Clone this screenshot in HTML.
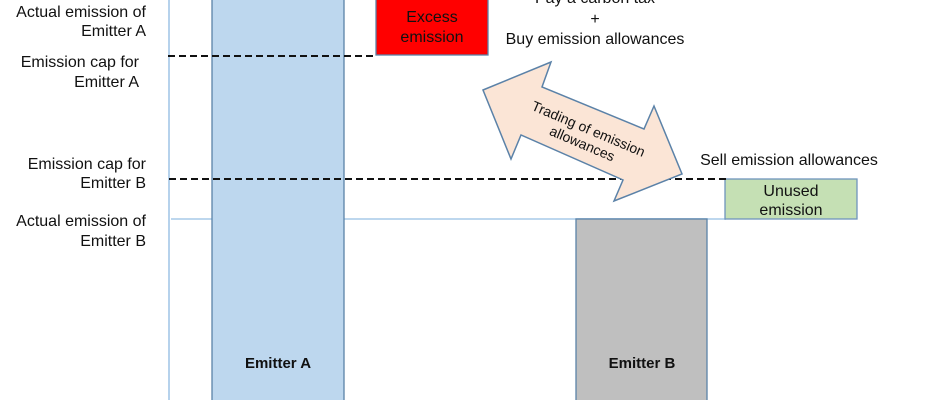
<!DOCTYPE html>
<html><head><style>body{margin:0;background:#fff}svg{display:block}</style></head>
<body>
<svg width="940" height="400" viewBox="0 0 940 400" xmlns="http://www.w3.org/2000/svg" font-family="Liberation Sans, Arial, sans-serif" font-size="16" fill="#111">
<line x1="169" y1="0" x2="169" y2="400" stroke="#9dc3e6" stroke-width="1.5"/>
<line x1="171" y1="219" x2="726" y2="219" stroke="#bdd7ee" stroke-width="2"/>
<rect x="212" y="-2" width="132" height="404" fill="#bdd7ee" stroke="#5b82a8" stroke-width="1.3"/>
<rect x="376" y="-2" width="112" height="57" fill="#ff0000" stroke="#5b82a8" stroke-width="1.3"/>
<rect x="576" y="219" width="131" height="183" fill="#bfbfbf" stroke="#5b82a8" stroke-width="1.3"/>
<rect x="725" y="179" width="132" height="40" fill="#c5e0b4" stroke="#6f94bd" stroke-width="1.3"/>
<polyline points="168,56 375,56 375,54" fill="none" stroke="#111" stroke-width="2" stroke-dasharray="7,4"/>
<line x1="169" y1="179" x2="727" y2="179" stroke="#111" stroke-width="2" stroke-dasharray="7,4"/>
<polygon points="483,90 551,62 542,87 644,129 654,106 682,174 614,201 623,180 521,135 511,159" fill="#fbe5d6" stroke="#5b82a8" stroke-width="1.5"/>
<g font-size="14" text-anchor="middle" transform="translate(585,137) rotate(23)">
<text x="0" y="-4">Trading of emission</text><text x="0" y="12">allowances</text></g>
<g text-anchor="end">
<text x="146" y="17">Actual emission of</text><text x="146" y="36">Emitter A</text>
<text x="139" y="67">Emission cap for</text><text x="139" y="87">Emitter A</text>
<text x="146" y="169">Emission cap for</text><text x="146" y="188">Emitter B</text>
<text x="146" y="226">Actual emission of</text><text x="146" y="246">Emitter B</text>
</g>
<g text-anchor="middle">
<text x="432" y="22">Excess</text><text x="432" y="42">emission</text>
<text x="595" y="3">Pay a carbon tax</text><text x="595" y="24">+</text>
<text x="595" y="44">Buy emission allowances</text>
<text x="789" y="165">Sell emission allowances</text>
<text x="791" y="196">Unused</text><text x="791" y="215">emission</text>
<text x="278" y="368" font-weight="bold" font-size="15">Emitter A</text>
<text x="642" y="368" font-weight="bold" font-size="15">Emitter B</text>
</g>
</svg>
</body></html>
